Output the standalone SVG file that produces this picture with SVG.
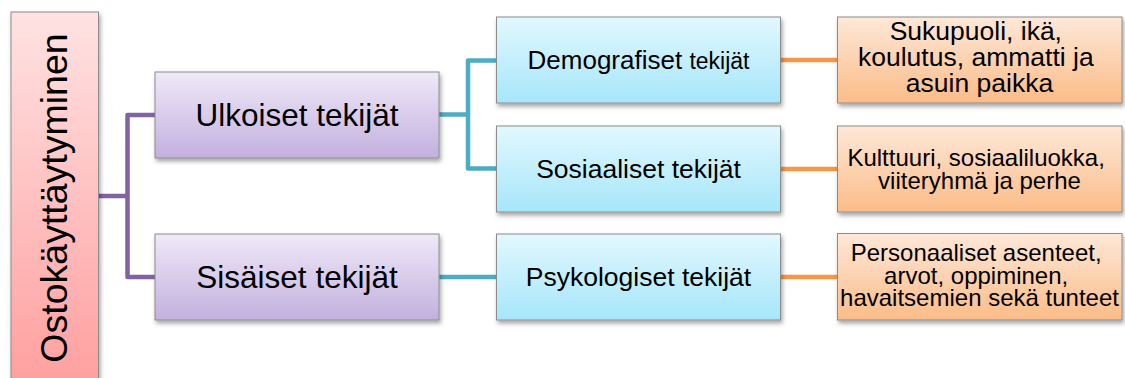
<svg xmlns="http://www.w3.org/2000/svg" width="1125" height="378" viewBox="0 0 1125 378">
  <defs>
    <linearGradient id="gRoot" x1="0" y1="0" x2="0" y2="1">
      <stop offset="0" stop-color="#ffe2e2"/>
      <stop offset="1" stop-color="#ff9e9e"/>
    </linearGradient>
    <linearGradient id="gPurple" x1="0" y1="0" x2="0" y2="1">
      <stop offset="0" stop-color="#efe9f8"/>
      <stop offset="1" stop-color="#c3b0de"/>
    </linearGradient>
    <linearGradient id="gBlue" x1="0" y1="0" x2="0" y2="1">
      <stop offset="0" stop-color="#e2f8fe"/>
      <stop offset="1" stop-color="#a6e6fa"/>
    </linearGradient>
    <linearGradient id="gOrange" x1="0" y1="0" x2="0" y2="1">
      <stop offset="0" stop-color="#fee8d8"/>
      <stop offset="1" stop-color="#fbbc88"/>
    </linearGradient>
    <filter id="shadow" x="-10%" y="-10%" width="130%" height="140%">
      <feDropShadow dx="1.5" dy="3" stdDeviation="2" flood-color="#000" flood-opacity="0.35"/>
    </filter>
  </defs>
  <style>
    .box { stroke: #8c8c8c; stroke-width: 1; filter: url(#shadow); }
    .root { fill: url(#gRoot); }
    .purple { fill: url(#gPurple); }
    .blue { fill: url(#gBlue); }
    .orange { fill: url(#gOrange); }
    text { font-family: "Liberation Sans", Arial, sans-serif; fill: #000; text-anchor: middle; }
    .conn { fill: none; stroke-width: 4.5; stroke-linejoin: round; stroke-linecap: butt; }
    .cp { stroke: #8064a2; }
    .cb { stroke: #4bacc6; }
    .co { stroke: #f79646; }
  </style>
  <rect width="1125" height="378" fill="#ffffff"/>

  <g id="connectors">
    <path class="conn cp" d="M98.5 196 H127.5 M155 115 H127.5 V277 H155"/>
    <path class="conn cb" d="M439 114.5 H468 M496.5 60.5 H468 V168.5 H496.5 M439 277 H496.5"/>
    <path class="conn co" d="M781 60 H837.5 M781 169 H837.5 M781 277 H837.5"/>
  </g>

  <g id="node-root">
    <rect class="box root" x="11" y="12" width="87.5" height="380"/>
    <text transform="translate(67,198) rotate(-90)" font-size="37.5">Ostokäyttäytyminen</text>
  </g>

  <g id="node-ulkoiset">
    <rect class="box purple" x="155" y="72" width="284" height="86"/>
    <text x="297" y="125.5" font-size="31.5">Ulkoiset tekijät</text>
  </g>
  <g id="node-sisaiset">
    <rect class="box purple" x="155" y="234" width="284" height="86"/>
    <text x="297" y="287.5" font-size="31.5">Sisäiset tekijät</text>
  </g>

  <g id="node-demografiset">
    <rect class="box blue" x="496.5" y="17" width="284" height="86"/>
    <text x="638.5" y="68.5"><tspan font-size="26">Demografiset </tspan><tspan font-size="23">tekijät</tspan></text>
  </g>
  <g id="node-sosiaaliset">
    <rect class="box blue" x="496.5" y="126" width="284" height="86"/>
    <text x="638.5" y="178" font-size="26.5">Sosiaaliset tekijät</text>
  </g>
  <g id="node-psykologiset">
    <rect class="box blue" x="496.5" y="234" width="284" height="86"/>
    <text x="638.5" y="286" font-size="26.5">Psykologiset tekijät</text>
  </g>

  <g id="node-demografiset-detail">
    <rect class="box orange" x="837.5" y="17" width="284.5" height="86"/>
    <text font-size="26.5">
      <tspan x="979.5" y="39.5">Sukupuoli, ikä,</tspan>
      <tspan x="979.5" y="65.5">koulutus, ammatti ja</tspan>
      <tspan x="979.5" y="91.5">asuin paikka</tspan>
    </text>
  </g>
  <g id="node-sosiaaliset-detail">
    <rect class="box orange" x="837.5" y="126" width="284.5" height="86"/>
    <text font-size="24">
      <tspan x="979.5" y="165.5">Kulttuuri, sosiaaliluokka,</tspan>
      <tspan x="979.5" y="189">viiteryhmä ja perhe</tspan>
    </text>
  </g>
  <g id="node-psykologiset-detail">
    <rect class="box orange" x="837.5" y="233.5" width="284.5" height="86.5"/>
    <text font-size="24">
      <tspan x="979.5" y="261">Personaaliset asenteet,</tspan>
      <tspan x="979.5" y="283.5">arvot, oppiminen,</tspan>
      <tspan x="979.5" y="306">havaitsemien sekä tunteet</tspan>
    </text>
  </g>
</svg>
